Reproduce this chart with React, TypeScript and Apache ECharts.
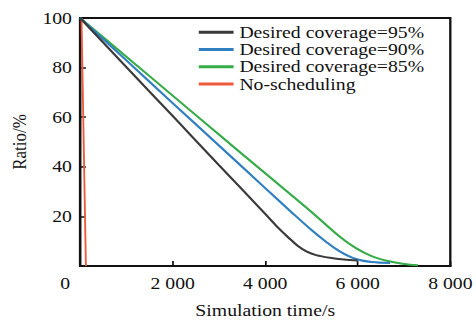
import React, { useEffect, useRef } from "react";
import * as echarts from "echarts";

const seriesNames = ["Desired coverage=95%", "Desired coverage=90%", "Desired coverage=85%", "No-scheduling"];
const colors = ["#3a3a3a", "#2f7fc1", "#35ac48", "#ef5a3c"];

const t95 = [0, 1000, 2000, 3000, 4000, 4250, 4500, 4700, 4900, 5100, 5400, 5700, 6000];
const r95 = [100, 80.2, 60.5, 40.7, 21, 16, 11.5, 8.2, 5.8, 4.4, 3.3, 2.6, 2.2];

const t90 = [0, 1000, 2000, 3000, 4000, 4550, 5000, 5300, 5600, 5960, 6300, 6700];
const r90 = [100, 82.9, 65.7, 48.6, 31.4, 22, 14.5, 10, 6, 2.8, 1.6, 1.2];

const t85 = [0, 1000, 2000, 3000, 4000, 5000, 5600, 5960, 6300, 6650, 7000, 7300];
const r85 = [100, 84.4, 68.7, 53, 37.4, 21.8, 12, 7.2, 4, 2, 0.8, 0.3];

const tNo = [30, 125];
const rNo = [100, 0];

const xTicks = [0, 2000, 4000, 6000, 8000];
const yTicks = [20, 40, 60, 80, 100];

const STRETCH = 476 / 410;
const FONT = "Liberation Serif";

function zip(t: number[], r: number[]) {
  return t.map((v, i) => [v, r[i]]);
}

export default function App() {
  const ref = useRef<HTMLDivElement>(null);
  useEffect(() => {
    const chart = echarts.init(ref.current!, null, { renderer: "svg" });
    const data = [zip(t95, r95), zip(t90, r90), zip(t85, r85), zip(tNo, rNo)];
    chart.setOption({
      animation: false,
      textStyle: { fontFamily: FONT },
      grid: {
        left: 66.3,
        right: 16.4,
        top: 18,
        bottom: 56,
        show: true,
        borderColor: "#111",
        borderWidth: 2,
      },
      legend: {
        orient: "vertical",
        left: 166.2,
        top: 18.5,
        itemWidth: 30,
        itemHeight: 3,
        itemGap: 0,
        icon: "rect",
        data: seriesNames,
        textStyle: { fontFamily: FONT, fontSize: 17, color: "#111", lineHeight: 17.3 },
      },
      xAxis: {
        type: "value",
        min: xTicks[0],
        max: xTicks[xTicks.length - 1],
        interval: 2000,
        name: "Simulation time/s",
        nameLocation: "middle",
        nameGap: 36,
        nameTextStyle: { fontFamily: FONT, fontSize: 17, color: "#111" },
        axisLine: { lineStyle: { color: "#111", width: 2 } },
        axisTick: { inside: true, length: 5, lineStyle: { color: "#111", width: 1.5 } },
        axisLabel: {
          showMinLabel: false,
          fontFamily: FONT,
          fontSize: 17,
          color: "#111",
          margin: 9,
          formatter: (v: number) => (v >= 1000 ? `${Math.floor(v / 1000)} ${String(v % 1000).padStart(3, "0")}` : `${v}`),
        },
        splitLine: { show: false },
      },
      yAxis: {
        type: "value",
        min: 0,
        max: yTicks[yTicks.length - 1],
        interval: 20,
        name: "Ratio/%",
        nameLocation: "middle",
        nameGap: 44,
        nameTextStyle: { fontFamily: FONT, fontSize: 17, color: "#111" },
        axisLine: { lineStyle: { color: "#111", width: 2 } },
        axisTick: { inside: true, length: 5, lineStyle: { color: "#111", width: 1.5 } },
        axisLabel: { showMinLabel: false, fontFamily: FONT, fontSize: 17, color: "#111", margin: 7 },
        splitLine: { show: false },
      },
      graphic: [
        {
          type: "text",
          left: 52,
          top: 275,
          style: { text: "0", fontFamily: FONT, fontSize: 17, fill: "#111" },
        },
      ],
      series: seriesNames.map((name, i) => ({
        name,
        type: "line",
        data: data[i],
        smooth: 0.35,
        symbol: "none",
        color: colors[i],
        lineStyle: { color: colors[i], width: i === 3 ? 1.6 : 2 },
        z: 10 - i,
      })),
    });
    return () => chart.dispose();
  }, []);
  return (
    <div
      style={{
        position: "fixed",
        left: 0,
        top: 0,
        width: 410,
        height: 324,
        transform: `scaleX(${STRETCH})`,
        transformOrigin: "0 0",
        background: "#fff",
      }}
    >
      <div ref={ref} style={{ width: 410, height: 324 }} />
    </div>
  );
}
